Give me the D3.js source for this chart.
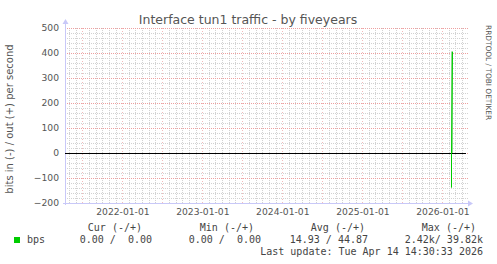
<!DOCTYPE html>
<html>
<head>
<meta charset="utf-8">
<script src="https://cdn.jsdelivr.net/npm/d3@7"></script>
<style>
  body { margin: 0; background: #fff; }
  svg { display: block; }
  text { font-family: "DejaVu Sans", sans-serif; fill: #555; }
  .mono { font-family: "DejaVu Sans Mono", monospace; font-size: 10px; white-space: pre; fill: #444; }
</style>
</head>
<body>
<svg id="chart" width="497" height="264"></svg>
<script>
const title = 'Interface tun1 traffic - by fiveyears';
const yLabel = 'bits in (-) / out (+) per second';
const yTicks = [-200, -100, 0, 100, 200, 300, 400, 500];
const xTickDates = ['2022-01-01', '2023-01-01', '2024-01-01', '2025-01-01', '2026-01-01'];
const timeRange = ['2021-04-14', '2026-04-14'];

// the only known samples: a short spike early Feb 2026
const spikeDates = ['2026-02-08', '2026-02-08', '2026-02-12', '2026-02-12'];
const outBps = [0, 405, 405, 0];
const inDates = ['2026-02-08', '2026-02-08', '2026-02-10', '2026-02-10'];
const inBps = [0, -138, -138, 0];

const legendHeaders = ['Cur (-/+)', 'Min (-/+)', 'Avg (-/+)', 'Max (-/+)'];
const legendValues = ['0.00 /  0.00', '0.00 /  0.00', '14.93 / 44.87', '2.42k/ 39.82k'];
const lastUpdate = 'Last update: Tue Apr 14 14:30:33 2026';

const parse = d3.utcParse('%Y-%m-%d');
const svg = d3.select('#chart');

const plotLeft = 65, plotRight = 465, plotTop = 28, plotBottom = 203;

const x = d3.scaleUtc()
  .domain(timeRange.map(parse))
  .range([plotLeft, plotRight]);

const y = d3.scaleLinear()
  .domain([-200, 500])
  .range([plotBottom, plotTop]);

const px = v => Math.round(v) + 0.5;

// minor grid
const grid = svg.append('g').attr('shape-rendering', 'crispEdges');
const minorY = d3.range(-200, 501, 20).filter(v => v % 100 !== 0);
grid.selectAll('.hmin').data(minorY).enter().append('line')
  .attr('x1', plotLeft).attr('x2', plotRight + 3)
  .attr('y1', d => px(y(d))).attr('y2', d => px(y(d)))
  .attr('stroke', '#d2d2d2').attr('stroke-dasharray', '1,1');
const months = d3.utcMonth.range(x.domain()[0], x.domain()[1]).filter(d => d.getUTCMonth() % 6 !== 0);
grid.selectAll('.vmin').data(months).enter().append('line')
  .attr('x1', d => px(x(d))).attr('x2', d => px(x(d)))
  .attr('y1', plotTop).attr('y2', plotBottom)
  .attr('stroke', '#d2d2d2').attr('stroke-dasharray', '1,1');

// major grid
grid.selectAll('.hmaj').data(yTicks).enter().append('line')
  .attr('x1', plotLeft).attr('x2', plotRight + 3)
  .attr('y1', d => px(y(d))).attr('y2', d => px(y(d)))
  .attr('stroke', '#eda0a0').attr('stroke-dasharray', '1,1');
const halfYears = d3.utcMonth.range(x.domain()[0], x.domain()[1]).filter(d => d.getUTCMonth() % 6 === 0);
grid.selectAll('.vmaj').data(halfYears).enter().append('line')
  .attr('x1', d => px(x(d))).attr('x2', d => px(x(d)))
  .attr('y1', plotTop).attr('y2', plotBottom)
  .attr('stroke', '#f3bcbc').attr('stroke-dasharray', '1,2');

// axes lines with arrows
const axisColor = '#c8c8f8';
svg.append('line').attr('x1', plotLeft + 0.5).attr('x2', plotLeft + 0.5).attr('y1', plotBottom + 2).attr('y2', plotTop - 6)
  .attr('stroke', axisColor);
svg.append('line').attr('x1', plotLeft - 2).attr('x2', plotRight + 4).attr('y1', plotBottom + 0.5).attr('y2', plotBottom + 0.5)
  .attr('stroke', axisColor);
svg.append('path').attr('d', `M${plotLeft - 2.5},${plotTop - 4}L${plotLeft + 0.5},${plotTop - 9}L${plotLeft + 3.5},${plotTop - 4}Z`).attr('fill', axisColor);
svg.append('path').attr('d', `M${plotRight + 3},${plotBottom - 2.5}L${plotRight + 8},${plotBottom + 0.5}L${plotRight + 3},${plotBottom + 3.5}Z`).attr('fill', axisColor);

// zero line
svg.append('line').attr('x1', plotLeft).attr('x2', plotRight + 1)
  .attr('y1', px(y(0))).attr('y2', px(y(0)))
  .attr('stroke', '#000');

// y axis labels
const yAxis = svg.append('g')
  .attr('transform', `translate(${plotLeft},0)`)
  .call(d3.axisLeft(y).tickValues(yTicks).tickSize(0).tickPadding(6));
yAxis.select('.domain').remove();
yAxis.selectAll('text').attr('font-family', '"DejaVu Sans", sans-serif').attr('font-size', 9.2).attr('fill', '#555');

// x axis labels
const xAxis = svg.append('g')
  .attr('transform', `translate(0,${plotBottom})`)
  .call(d3.axisBottom(x).tickValues(xTickDates.map(parse)).tickFormat(d3.utcFormat('%Y-%m-%d')).tickSize(0).tickPadding(5));
xAxis.select('.domain').remove();
xAxis.selectAll('text').attr('font-family', '"DejaVu Sans", sans-serif').attr('font-size', 9.2).attr('fill', '#555');

// series
const green = '#00cc00';
const line = d3.line().x(d => px(x(d[0]))).y(d => y(d[1]));
svg.append('path')
  .datum(spikeDates.map((d, i) => [parse(d), outBps[i]]))
  .attr('d', line).attr('fill', 'none').attr('stroke', '#8ee08e').attr('stroke-width', 1);
svg.append('path')
  .datum(inDates.map((d, i) => [parse(d), inBps[i]]))
  .attr('d', line).attr('fill', 'none').attr('stroke', '#8ee08e').attr('stroke-width', 1);
// sharp edge of the spike
const edge = d3.line().x(d => px(x(d[0])) + (d[1] > 0 ? 1 : 0)).y(d => y(d[1]));
svg.append('path')
  .datum([[parse(spikeDates[0]), 0], [parse(spikeDates[1]), outBps[1]]])
  .attr('d', edge).attr('fill', 'none').attr('stroke', green);
svg.append('path')
  .datum([[parse(inDates[0]), 0], [parse(inDates[1]), inBps[1]]])
  .attr('d', edge).attr('fill', 'none').attr('stroke', green);

// title + labels
svg.append('text').attr('x', 248).attr('y', 24).attr('text-anchor', 'middle')
  .attr('font-size', 12.5).attr('fill', '#444').text(title);
svg.append('text').attr('transform', 'translate(13,119) rotate(-90)').attr('text-anchor', 'middle')
  .attr('font-size', 10).attr('fill', '#444').text(yLabel);
svg.append('text').attr('transform', 'translate(486,25) rotate(90)')
  .attr('font-size', 7.4).attr('fill', '#dadada').text('RRDTOOL / TOBI OETIKER');

// legend
const headerRight = [142, 254, 365, 476];
const valueRight = [152, 261, 368, 483];
svg.append('g').selectAll('text').data(legendHeaders).enter().append('text')
  .attr('class', 'mono').attr('x', (d, i) => headerRight[i]).attr('y', 231)
  .attr('text-anchor', 'end').text(d => d);
svg.append('g').selectAll('text').data(legendValues).enter().append('text')
  .attr('class', 'mono').attr('x', (d, i) => valueRight[i]).attr('y', 243)
  .attr('text-anchor', 'end').text(d => d);
svg.append('rect').attr('x', 14).attr('y', 237).attr('width', 6).attr('height', 6).attr('fill', green);
svg.append('text').attr('class', 'mono').attr('x', 27).attr('y', 243).text('bps');
svg.append('text').attr('class', 'mono').attr('x', 483).attr('y', 255)
  .attr('text-anchor', 'end').text(lastUpdate);
</script>
</body>
</html>
